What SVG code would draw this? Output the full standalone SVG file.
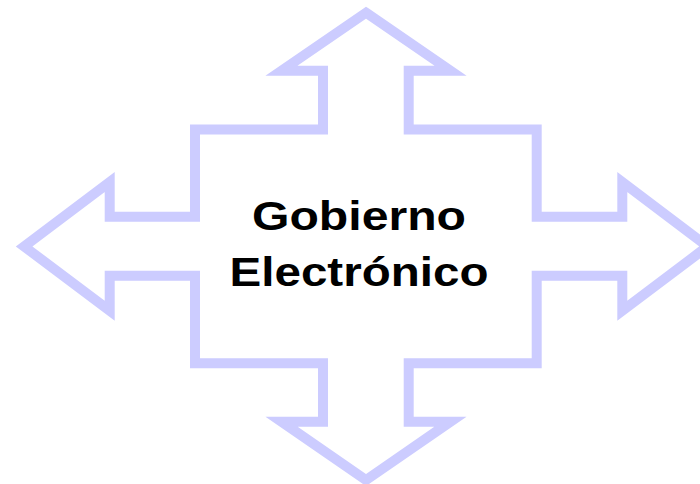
<svg xmlns="http://www.w3.org/2000/svg" width="700" height="484" viewBox="0 0 700 484">
<style>
.arrow{fill:#ffffff;stroke:#ccccff;stroke-width:10;stroke-linejoin:miter;stroke-miterlimit:10}
.lbl{font-family:"Liberation Sans",Arial,sans-serif;font-weight:bold;font-size:41px;fill:#000000}
</style>
<rect width="700" height="484" fill="#ffffff"/>
<g id="quad-arrow">
<path class="arrow" d="M366,12.7 L450.5,70.7 L408.7,70.7 L408.7,129.5 L536.7,129.5 L536.7,216.7 L622.3,216.7 L622.3,182 L707.6,246.4 L622.3,310.8 L622.3,275.7 L536.7,275.7 L536.7,363.3 L408.7,363.3 L408.7,421.7 L450.5,421.7 L366,480 L281.5,421.7 L323,421.7 L323,363.3 L195,363.3 L195,275.7 L109.7,275.7 L109.7,310.8 L24.1,246.4 L109.7,182 L109.7,216.7 L195,216.7 L195,129.5 L323,129.5 L323,70.7 L281.5,70.7 Z"/>
</g>
<g id="label">
<text class="lbl" x="359" y="230" text-anchor="middle" textLength="214" lengthAdjust="spacingAndGlyphs">Gobierno</text>
<text class="lbl" x="359" y="286" text-anchor="middle" textLength="259" lengthAdjust="spacingAndGlyphs">Electrónico</text>
</g>
<g id="connectors"/>
</svg>
